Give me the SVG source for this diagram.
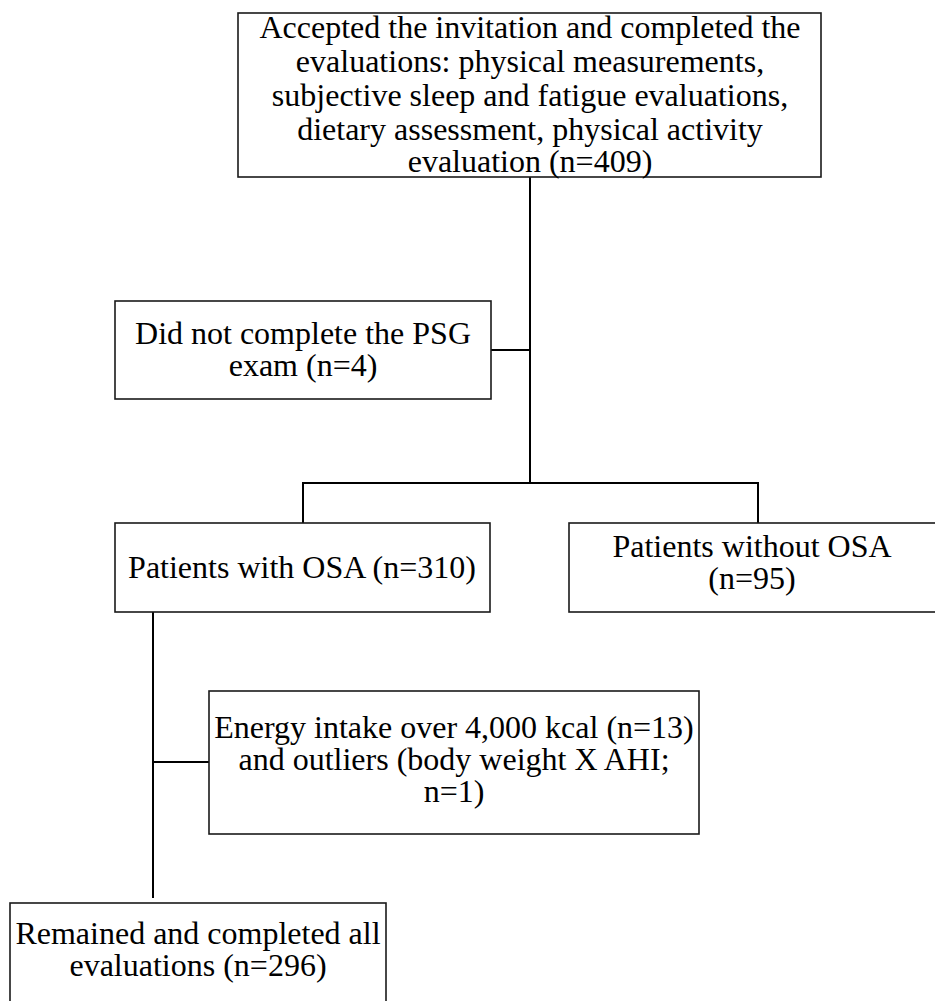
<svg xmlns="http://www.w3.org/2000/svg" width="935" height="1001" viewBox="0 0 935 1001">
<style>
.box{fill:#fff;stroke:#1a1a1a;stroke-width:1.6}
.t{font-family:"Liberation Serif","Times New Roman",serif;font-size:32px;fill:#000;text-anchor:middle}
.c{fill:none;stroke:#000;stroke-width:2}
</style>
<rect width="935" height="1001" fill="#fff"/>
<g id="connectors">
<path class="c" d="M530 177 V483"/>
<path class="c" d="M491 350 H530"/>
<path class="c" d="M303 523 V483 H758 V523"/>
<path class="c" d="M153 612 V898"/>
<path class="c" d="M153 762 H209"/>
</g>
<g id="node-accepted">
<rect class="box" x="238" y="13" width="583" height="164"/>
<text class="t" x="530" y="38">Accepted the invitation and completed the</text>
<text class="t" x="530" y="72">evaluations: physical measurements,</text>
<text class="t" x="530" y="106">subjective sleep and fatigue evaluations,</text>
<text class="t" x="530" y="140">dietary assessment, physical activity</text>
<text class="t" x="530" y="172">evaluation (n=409)</text>
</g>
<g id="node-psg">
<rect class="box" x="115" y="301" width="376" height="98"/>
<text class="t" x="303" y="344">Did not complete the PSG</text>
<text class="t" x="303" y="376">exam (n=4)</text>
</g>
<g id="node-osa">
<rect class="box" x="115" y="523" width="375" height="89"/>
<text class="t" x="302" y="578">Patients with OSA (n=310)</text>
</g>
<g id="node-no-osa">
<rect class="box" x="569" y="523" width="370" height="89"/>
<text class="t" x="752" y="557">Patients without OSA</text>
<text class="t" x="752" y="589">(n=95)</text>
</g>
<g id="node-energy">
<rect class="box" x="209" y="691" width="490" height="143"/>
<text class="t" x="454" y="738">Energy intake over 4,000 kcal (n=13)</text>
<text class="t" x="454" y="770">and outliers (body weight X AHI;</text>
<text class="t" x="454" y="802">n=1)</text>
</g>
<g id="node-remained">
<rect class="box" x="10" y="903" width="376" height="110"/>
<text class="t" x="198" y="944">Remained and completed all</text>
<text class="t" x="198" y="976">evaluations (n=296)</text>
</g>
</svg>
